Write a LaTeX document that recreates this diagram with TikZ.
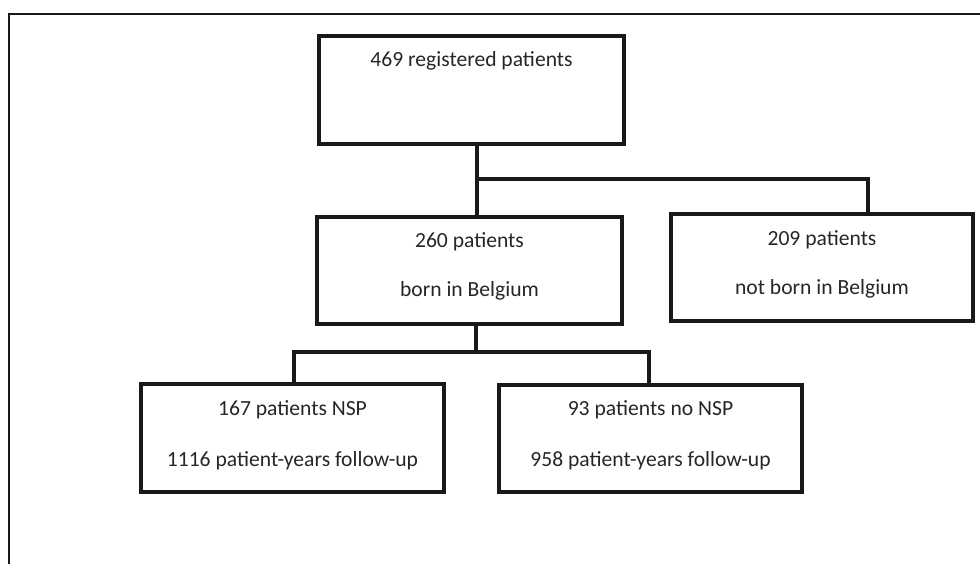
\documentclass[tikz,border=0pt]{standalone}
\usepackage{fontspec}
\setmainfont{Carlito}
\begin{document}
\begin{tikzpicture}[x=1pt,y=-1pt,
  box/.style={draw=black!90,line width=3.6pt,rectangle,inner sep=0pt,minimum width=#1},
  box/.default=303pt,
  txt/.style={anchor=base,inner sep=0pt,font=\fontsize{21.6}{26}\selectfont,text=black!85},
  conn/.style={draw=black!90,line width=3.2pt},
  frame/.style={draw=black!90,line width=2.2pt}]
\useasboundingbox (0,0) rectangle (980,564);
% outer frame (top and left only)
\coordinate (ftl) at (9,14);
\coordinate (ftr) at (980,14);
\coordinate (fbl) at (9,564);
\draw[frame] (fbl) -- (ftl) -- (ftr);
% boxes
\node[box=305pt,minimum height=108pt] (top) at (471.5,90) {};
\node[box=305pt,minimum height=107pt] (mid) at (469.5,270.5) {};
\node[box=302pt,minimum height=107pt] (right) at (822,267.5) {};
\node[box=303pt,minimum height=108pt] (bl) at (292.5,438) {};
\node[box=303pt,minimum height=107pt] (br) at (650.5,438.5) {};
% texts
\node[txt] (topt) at (471.5,67) {469 registered patients};
\node[txt] (midt1) at (469.5,247.5) {260 patients};
\node[txt] (midt2) at (469.5,296.5) {born in Belgium};
\node[txt] (rightt1) at (822,245) {209 patients};
\node[txt] (rightt2) at (822,294.5) {not born in Belgium};
\node[txt] (blt1) at (292.5,415) {167 patients NSP};
\node[txt] (blt2) at (292.5,466) {1116 patient-years follow-up};
\node[txt] (brt1) at (650.5,415) {93 patients no NSP};
\node[txt] (brt2) at (650.5,466) {958 patient-years follow-up};
% connectors
\coordinate (j1) at (477,179);
\coordinate (j2) at (868,179);
\coordinate (j3) at (476,352);
\coordinate (j4) at (294,352);
\coordinate (j5) at (649,352);
\draw[conn] (j1 |- top.south) -- (j1 |- mid.north);
\draw[conn] (j1) -- (j2) -- (j2 |- right.north);
\draw[conn] (j3 |- mid.south) -- (j3);
\draw[conn] (j4 |- bl.north) -- (j4) -- (j5) -- (j5 |- br.north);
\end{tikzpicture}
\end{document}
